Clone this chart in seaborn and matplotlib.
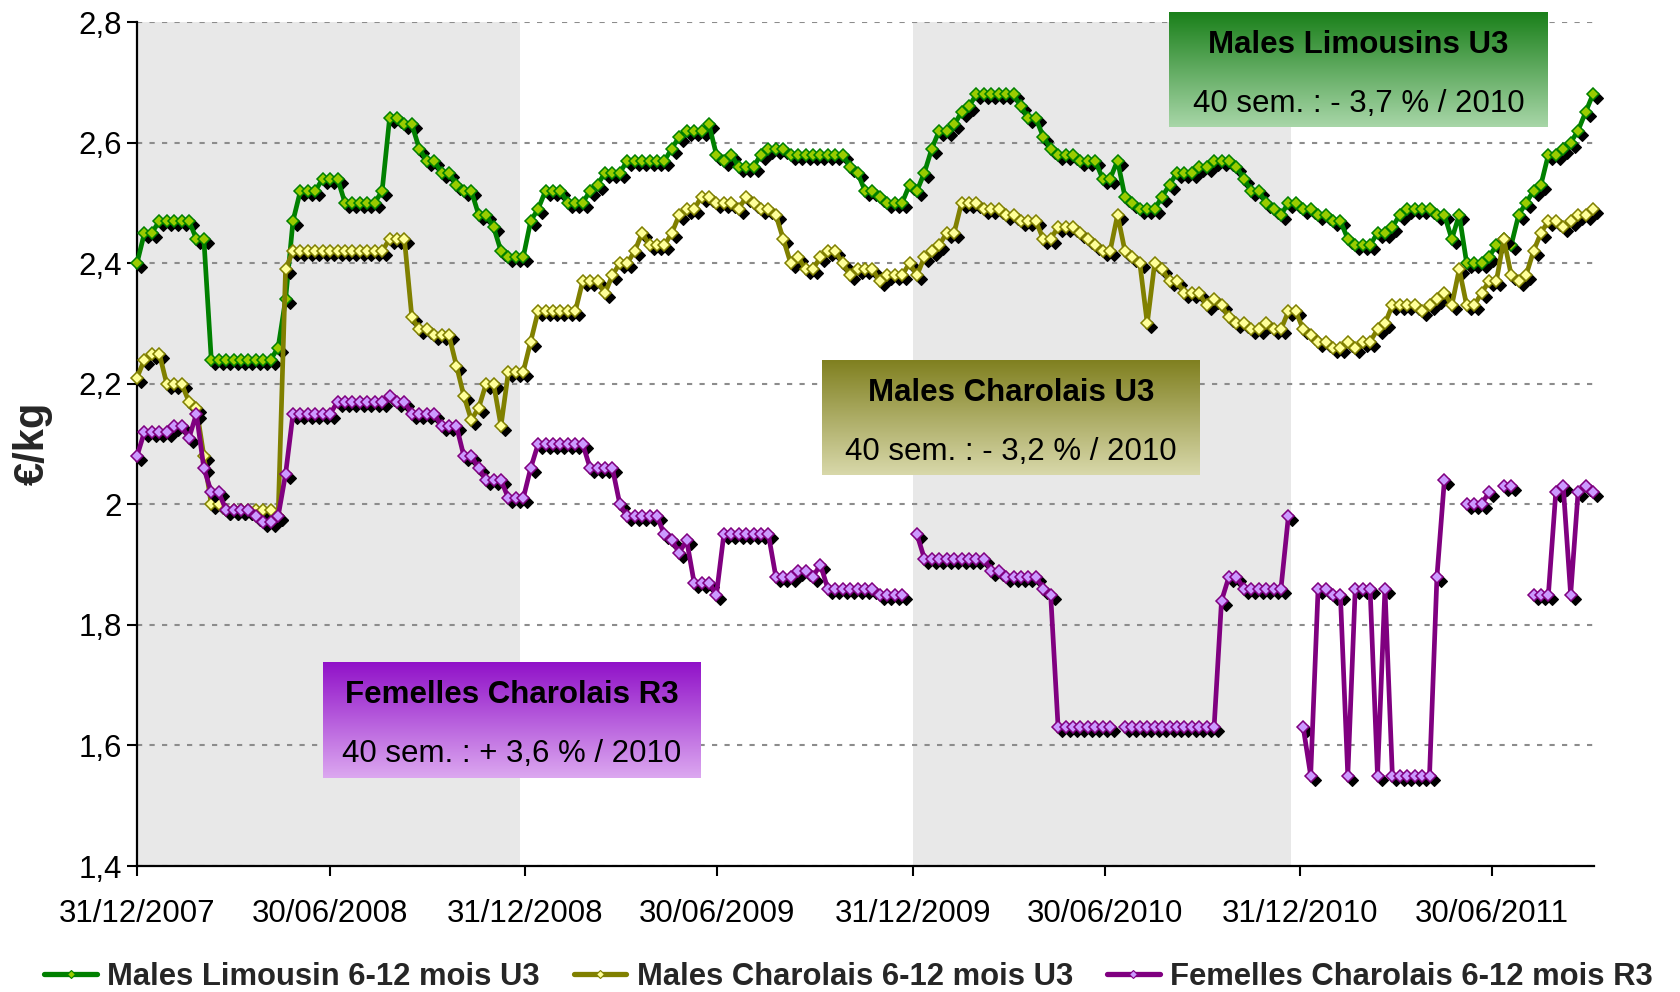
import numpy as np
import pandas as pd
import matplotlib
matplotlib.use("Agg")
import matplotlib.pyplot as plt
from matplotlib.transforms import ScaledTranslation
from matplotlib.lines import Line2D
from matplotlib.colors import to_rgb
import seaborn as sns

# ---------------- data ----------------
START = "2007-12-31"   # weekly quotations (Mondays)

limousin = [
    2.40, 2.45, 2.45, 2.47, 2.47, 2.47, 2.47, 2.47, 2.44, 2.44,
    2.24, 2.24, 2.24, 2.24, 2.24, 2.24, 2.24, 2.24, 2.24, 2.26,
    2.34, 2.47, 2.52, 2.52, 2.52, 2.54, 2.54, 2.54, 2.50, 2.50,
    2.50, 2.50, 2.50, 2.52, 2.64, 2.64, 2.63, 2.63, 2.59, 2.57,
    2.57, 2.55, 2.55, 2.53, 2.52, 2.52, 2.48, 2.48, 2.46, 2.42,
    2.41, 2.41, 2.41, 2.47, 2.49, 2.52, 2.52, 2.52, 2.50, 2.50,
    2.50, 2.52, 2.53, 2.55, 2.55, 2.55, 2.57, 2.57, 2.57, 2.57,
    2.57, 2.57, 2.59, 2.61, 2.62, 2.62, 2.62, 2.63, 2.58, 2.57,
    2.58, 2.56, 2.56, 2.56, 2.58, 2.59, 2.59, 2.59, 2.58, 2.58,
    2.58, 2.58, 2.58, 2.58, 2.58, 2.58, 2.56, 2.55, 2.52, 2.52,
    2.51, 2.50, 2.50, 2.50, 2.53, 2.52, 2.55, 2.59, 2.62, 2.62,
    2.63, 2.65, 2.66, 2.68, 2.68, 2.68, 2.68, 2.68, 2.68, 2.66,
    2.64, 2.64, 2.61, 2.59, 2.58, 2.58, 2.58, 2.57, 2.57, 2.57,
    2.54, 2.54, 2.57, 2.51, 2.50, 2.49, 2.49, 2.49, 2.51, 2.53,
    2.55, 2.55, 2.55, 2.56, 2.56, 2.57, 2.57, 2.57, 2.56, 2.54,
    2.52, 2.52, 2.50, 2.49, 2.48, 2.50, 2.50, 2.49, 2.49, 2.48,
    2.48, 2.47, 2.47, 2.44, 2.43, 2.43, 2.43, 2.45, 2.45, 2.46,
    2.48, 2.49, 2.49, 2.49, 2.49, 2.48, 2.48, 2.44, 2.48, 2.40,
    2.40, 2.40, 2.41, 2.43, 2.44, 2.43, 2.48, 2.50, 2.52, 2.53,
    2.58, 2.58, 2.59, 2.60, 2.62, 2.65, 2.68,
]

charolais = [
    2.21, 2.24, 2.25, 2.25, 2.20, 2.20, 2.20, 2.17, 2.16, 2.08,
    2.00, 2.00, 1.99, 1.99, 1.99, 1.99, 1.99, 1.99, 1.99, 1.98,
    2.39, 2.42, 2.42, 2.42, 2.42, 2.42, 2.42, 2.42, 2.42, 2.42,
    2.42, 2.42, 2.42, 2.42, 2.44, 2.44, 2.44, 2.31, 2.29, 2.29,
    2.28, 2.28, 2.28, 2.23, 2.18, 2.14, 2.16, 2.20, 2.20, 2.13,
    2.22, 2.22, 2.22, 2.27, 2.32, 2.32, 2.32, 2.32, 2.32, 2.32,
    2.37, 2.37, 2.37, 2.35, 2.38, 2.40, 2.40, 2.42, 2.45, 2.43,
    2.43, 2.43, 2.45, 2.48, 2.49, 2.49, 2.51, 2.51, 2.50, 2.50,
    2.50, 2.49, 2.51, 2.50, 2.49, 2.49, 2.48, 2.44, 2.40, 2.41,
    2.39, 2.39, 2.41, 2.42, 2.42, 2.40, 2.38, 2.39, 2.39, 2.39,
    2.37, 2.38, 2.38, 2.38, 2.40, 2.38, 2.41, 2.42, 2.43, 2.45,
    2.45, 2.50, 2.50, 2.50, 2.49, 2.49, 2.49, 2.48, 2.48, 2.47,
    2.47, 2.47, 2.44, 2.44, 2.46, 2.46, 2.46, 2.45, 2.44, 2.43,
    2.42, 2.42, 2.48, 2.42, 2.41, 2.40, 2.30, 2.40, 2.39, 2.37,
    2.37, 2.35, 2.35, 2.35, 2.33, 2.34, 2.33, 2.31, 2.30, 2.30,
    2.29, 2.29, 2.30, 2.29, 2.29, 2.32, 2.32, 2.29, 2.28, 2.27,
    2.27, 2.26, 2.26, 2.27, 2.26, 2.27, 2.27, 2.29, 2.30, 2.33,
    2.33, 2.33, 2.33, 2.32, 2.33, 2.34, 2.35, 2.33, 2.39, 2.33,
    2.33, 2.35, 2.37, 2.37, 2.44, 2.38, 2.37, 2.38, 2.42, 2.45,
    2.47, 2.47, 2.46, 2.47, 2.48, 2.48, 2.49,
]

nan = np.nan
femelles = [
    2.08, 2.12, 2.12, 2.12, 2.12, 2.13, 2.13, 2.11, 2.15, 2.06,
    2.02, 2.02, 1.99, 1.99, 1.99, 1.99, 1.98, 1.97, 1.97, 1.98,
    2.05, 2.15, 2.15, 2.15, 2.15, 2.15, 2.15, 2.17, 2.17, 2.17,
    2.17, 2.17, 2.17, 2.17, 2.18, 2.17, 2.17, 2.15, 2.15, 2.15,
    2.15, 2.13, 2.13, 2.13, 2.08, 2.08, 2.06, 2.04, 2.04, 2.04,
    2.01, 2.01, 2.01, 2.06, 2.10, 2.10, 2.10, 2.10, 2.10, 2.10,
    2.10, 2.06, 2.06, 2.06, 2.06, 2.00, 1.98, 1.98, 1.98, 1.98,
    1.98, 1.95, 1.94, 1.92, 1.94, 1.87, 1.87, 1.87, 1.85, 1.95,
    1.95, 1.95, 1.95, 1.95, 1.95, 1.95, 1.88, 1.88, 1.88, 1.89,
    1.89, 1.88, 1.90, 1.86, 1.86, 1.86, 1.86, 1.86, 1.86, 1.86,
    1.85, 1.85, 1.85, 1.85, nan, 1.95, 1.91, 1.91, 1.91, 1.91,
    1.91, 1.91, 1.91, 1.91, 1.91, 1.89, 1.89, 1.88, 1.88, 1.88,
    1.88, 1.88, 1.86, 1.85, 1.63, 1.63, 1.63, 1.63, 1.63, 1.63,
    1.63, 1.63, nan, 1.63, 1.63, 1.63, 1.63, 1.63, 1.63, 1.63,
    1.63, 1.63, 1.63, 1.63, 1.63, 1.63, 1.84, 1.88, 1.88, 1.86,
    1.86, 1.86, 1.86, 1.86, 1.86, 1.98, nan, 1.63, 1.55, 1.86,
    1.86, 1.85, 1.85, 1.55, 1.86, 1.86, 1.86, 1.55, 1.86, 1.55,
    1.55, 1.55, 1.55, 1.55, 1.55, 1.88, 2.04, nan, nan, 2.00,
    2.00, 2.00, 2.02, nan, 2.03, 2.03, nan, nan, 1.85, 1.85,
    1.85, 2.02, 2.03, 1.85, 2.02, 2.03, 2.02,
]

series_names = ["Males Limousin 6-12 mois U3",
                "Males Charolais 6-12 mois U3",
                "Femelles Charolais 6-12 mois R3"]
line_colors = ["#008000", "#808000", "#800080"]
face_colors = ["#99CC00", "#FFFF99", "#CC99FF"]

ytick_vals = [1.4, 1.6, 1.8, 2.0, 2.2, 2.4, 2.6, 2.8]
ytick_labels = ["1,4", "1,6", "1,8", "2", "2,2", "2,4", "2,6", "2,8"]
xtick_dates = ["2007-12-31", "2008-06-30", "2008-12-31", "2009-06-30",
               "2009-12-31", "2010-06-30", "2010-12-31", "2011-06-30"]
xtick_labels = ["31/12/2007", "30/06/2008", "31/12/2008", "30/06/2009",
                "31/12/2009", "30/06/2010", "31/12/2010", "30/06/2011"]
shade_periods = [("2007-12-31", "2008-12-26"), ("2009-12-31", "2010-12-22")]

box_titles = ["Males Limousins U3", "Males Charolais U3", "Femelles Charolais R3"]
box_subtitles = ["40 sem. : - 3,7 % / 2010", "40 sem. : - 3,2 % / 2010",
                 "40 sem. : + 3,6 % / 2010"]

# ---------------- style ----------------
sns.set_theme(style="white")
plt.rcParams["font.family"] = ["Liberation Sans", "DejaVu Sans"]

W, H = 1680, 992
fig = plt.figure(figsize=(W / 100, H / 100), dpi=100)
ax = fig.add_axes([137 / W, 1 - 866 / H, (1594 - 137) / W, (866 - 22) / H])

dates = pd.date_range(START, periods=len(limousin), freq="7D")
df = pd.DataFrame({"date": dates, series_names[0]: limousin,
                   series_names[1]: charolais, series_names[2]: femelles})

for a, b in shade_periods:
    ax.axvspan(pd.Timestamp(a), pd.Timestamp(b), color="#E8E8E8", zorder=0, lw=0)

shadow = ax.transData + ScaledTranslation(4 / 100, -4 / 100, fig.dpi_scale_trans)


def segments(frame, col):
    ok = frame[col].notna().values
    seg_id = np.cumsum(~ok)
    for k in np.unique(seg_id[ok]):
        yield frame[ok & (seg_id == k)]


MS = 6.2
for n, name in enumerate(series_names):
    z = 2 + 2 * n
    for seg in segments(df, name):
        sns.lineplot(data=seg, x="date", y=name, ax=ax, linestyle="none",
                     marker="D", markersize=MS, color="black",
                     markeredgecolor="black", markeredgewidth=0.8,
                     transform=shadow, zorder=z, clip_on=False, legend=False)
        sns.lineplot(data=seg, x="date", y=name, ax=ax, color=line_colors[n],
                     linewidth=3.4, marker="D", markersize=MS,
                     markerfacecolor=face_colors[n],
                     markeredgecolor=line_colors[n], markeredgewidth=1.1,
                     zorder=z + 1, clip_on=False, legend=False)

ax.set_xlim(pd.Timestamp("2007-12-31"), pd.Timestamp("2011-10-04"))
ax.set_ylim(1.4, 2.8)
ax.set_yticks(ytick_vals)
ax.set_yticklabels(ytick_labels)
ax.set_xticks(pd.to_datetime(xtick_dates))
ax.set_xticklabels(xtick_labels)
ax.set_xlabel("")
ax.set_ylabel("")

ax.set_axisbelow(True)
ax.yaxis.grid(True, color="#8C8C8C", linestyle=(0, (2.5, 3.5)), linewidth=1.5)
ax.xaxis.grid(False)
for s in ["top", "right"]:
    ax.spines[s].set_visible(False)
for s in ["left", "bottom"]:
    ax.spines[s].set_color("black")
    ax.spines[s].set_linewidth(1.6)
ax.tick_params(axis="both", direction="out", length=7, width=1.5,
               color="black", labelsize=22.5, labelcolor="black")
ax.tick_params(axis="y", pad=4, left=True)
ax.tick_params(axis="x", pad=17, bottom=True)
ax.set_facecolor("white")

fig.text(33 / W, 1 - 443 / H, "€/kg", rotation=90, ha="center", va="center",
         fontsize=30, fontweight="bold")

# ---------------- annotation boxes ----------------
box_geom = [(1169, 12, 1548, 127), (822, 360, 1200, 475), (323, 662, 701, 778)]
box_cols = [("#1A801A", "#A8D6A8"), ("#808020", "#D8D8AA"), ("#9010C8", "#DCA8F0")]
grad = np.linspace(0, 1, 256)[:, None, None]
for (l, t, r, b), (ct, cb), title, sub in zip(box_geom, box_cols, box_titles, box_subtitles):
    bx = fig.add_axes([l / W, 1 - b / H, (r - l) / W, (b - t) / H])
    c1 = np.array(to_rgb(ct))[None, None, :]
    c2 = np.array(to_rgb(cb))[None, None, :]
    img = c1 * (1 - grad) + c2 * grad
    bx.imshow(img, aspect="auto", extent=[0, 1, 0, 1], origin="upper")
    bx.set_axis_off()
    cx = (l + r) / 2 / W
    fig.text(cx, 1 - (t + 41) / H, title, ha="center", va="baseline",
             fontsize=22.5, fontweight="bold", color="black")
    fig.text(cx, 1 - (t + 100) / H, sub, ha="center", va="baseline",
             fontsize=22.5, color="black")

# ---------------- legend ----------------
handles = [Line2D([], [], color=line_colors[k], lw=3.8, marker="D", markersize=4.5,
                  markerfacecolor=face_colors[k], markeredgecolor=line_colors[k],
                  markeredgewidth=0.8) for k in range(3)]
fig.legend(handles, series_names, loc="center", bbox_to_anchor=(0.505, 1 - 977 / H),
           ncol=3, frameon=False, prop=dict(weight="bold", size=22.3),
           handlelength=1.7, handletextpad=0.33, columnspacing=1.1)

fig.savefig("out.png", dpi=100)
